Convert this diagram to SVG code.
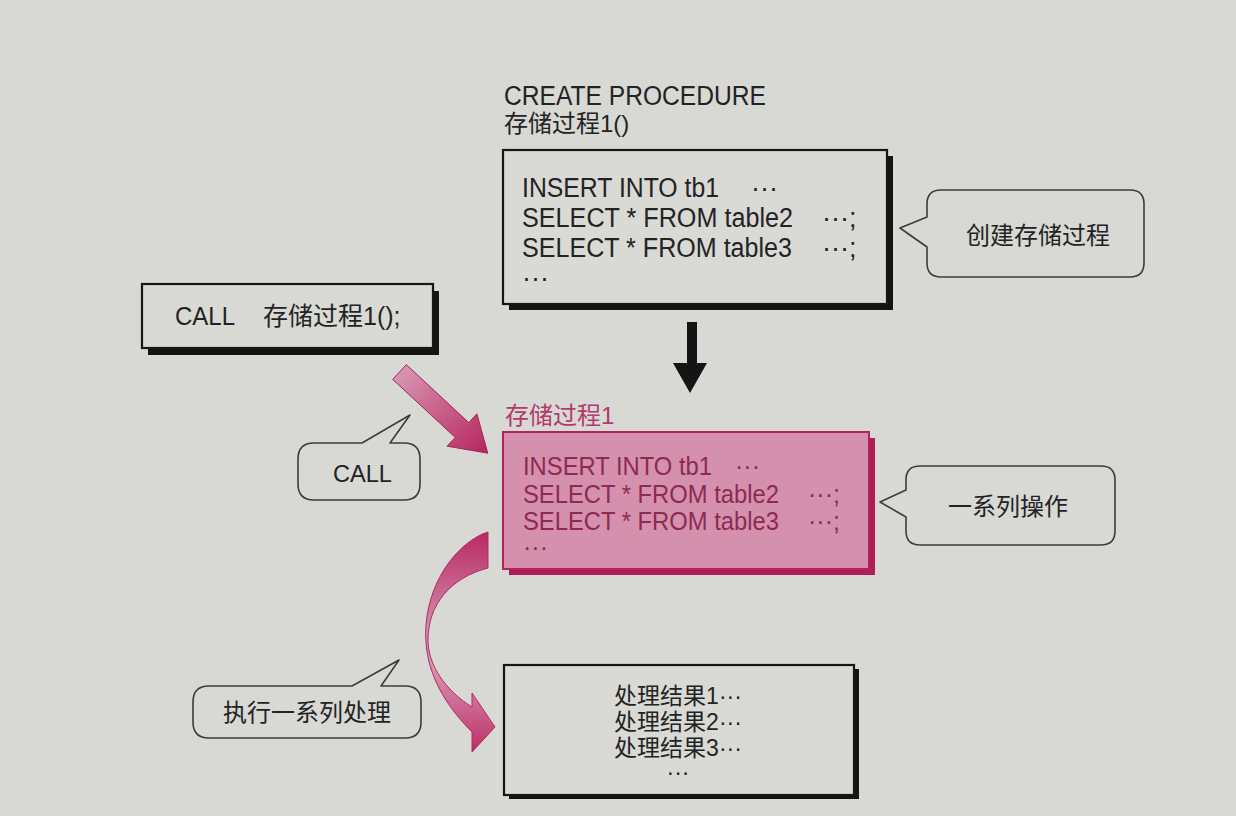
<svg xmlns="http://www.w3.org/2000/svg" width="1236" height="816" viewBox="0 0 1236 816">
<style>
.lat{font-family:"Liberation Sans","Noto Sans CJK SC",sans-serif;fill:#232323}
.cjk{font-family:"Liberation Sans","Noto Sans CJK SC",sans-serif;fill:#232323}
.pk{fill:#8e2a52}
.box{fill:#d9d9d6;stroke:#161616;stroke-width:2.2}
.shadow{fill:#141414}
.bubble{fill:none;stroke:#3c3c3c;stroke-width:1.6;stroke-linejoin:round}
</style>
<defs>
<linearGradient id="gDiag" gradientUnits="userSpaceOnUse" x1="398" y1="370" x2="485" y2="452">
<stop offset="0" stop-color="#d997b3"/>
<stop offset="1" stop-color="#b6285f"/>
</linearGradient>
<linearGradient id="gCurve" gradientUnits="userSpaceOnUse" x1="0" y1="532" x2="0" y2="752">
<stop offset="0" stop-color="#b92a63"/>
<stop offset="0.45" stop-color="#d48fad"/>
<stop offset="0.6" stop-color="#d99ab5"/>
<stop offset="1" stop-color="#bd2f69"/>
</linearGradient>
</defs>
<rect x="0" y="0" width="1236" height="816" fill="#d8d8d5"/>

<g id="title">
<text class="lat" x="504" y="105" font-size="27" textLength="262" lengthAdjust="spacingAndGlyphs">CREATE PROCEDURE</text>
<text class="cjk" x="504" y="132" font-size="24">存储过程1()</text>
</g>

<g id="create-box">
<rect class="shadow" x="509" y="156" width="384" height="154"/>
<rect class="box" x="503" y="150" width="384" height="154"/>
<text class="lat" x="522" y="197" font-size="27" textLength="197" lengthAdjust="spacingAndGlyphs">INSERT INTO tb1</text>
<text class="lat" x="751" y="197" font-size="27">···</text>
<text class="lat" x="522" y="227" font-size="27" textLength="271" lengthAdjust="spacingAndGlyphs">SELECT * FROM table2</text>
<text class="lat" x="822" y="227" font-size="27">···;</text>
<text class="lat" x="522" y="257" font-size="27" textLength="270" lengthAdjust="spacingAndGlyphs">SELECT * FROM table3</text>
<text class="lat" x="822" y="257" font-size="27">···;</text>
<text class="lat" x="522" y="287" font-size="27">···</text>
</g>

<g id="bubble-create">
<path class="bubble" d="M941,190 H1130 Q1144,190 1144,204 V263 Q1144,277 1130,277 H941 Q927,277 927,263 V247 L900,228 L927,217 V204 Q927,190 941,190 Z"/>
<text class="cjk" x="1038" y="244" font-size="24" text-anchor="middle">创建存储过程</text>
</g>

<g id="call-box">
<rect class="shadow" x="148" y="291" width="291" height="64"/>
<rect class="box" x="142" y="284" width="291" height="64"/>
<text class="lat" x="175" y="325" font-size="25" textLength="60" lengthAdjust="spacingAndGlyphs">CALL</text>
<text class="cjk" x="263" y="325" font-size="25">存储过程1();</text>
</g>

<g id="bubble-call">
<path class="bubble" d="M314,443 H362 L410,415 L390,443 H404 Q420,443 420,459 V484 Q420,500 404,500 H314 Q298,500 298,484 V459 Q298,443 314,443 Z"/>
<text class="lat" x="333" y="482" font-size="24" textLength="59" lengthAdjust="spacingAndGlyphs">CALL</text>
</g>

<g id="procedure-box">
<text class="cjk" x="505" y="424" font-size="24" fill="#b23a6c" style="fill:#b23a6c">存储过程1</text>
<rect x="509" y="438" width="366" height="137" fill="#b01c56"/>
<rect x="503" y="432" width="366" height="137" fill="#d490ad" stroke="#b4245c" stroke-width="2"/>
<text class="lat pk" x="523" y="475" font-size="25" textLength="189" lengthAdjust="spacingAndGlyphs">INSERT INTO tb1</text>
<text class="lat pk" x="735" y="475" font-size="25">···</text>
<text class="lat pk" x="523" y="503" font-size="25" textLength="256" lengthAdjust="spacingAndGlyphs">SELECT * FROM table2</text>
<text class="lat pk" x="808" y="503" font-size="25">···;</text>
<text class="lat pk" x="523" y="530" font-size="25" textLength="256" lengthAdjust="spacingAndGlyphs">SELECT * FROM table3</text>
<text class="lat pk" x="808" y="530" font-size="25">···;</text>
<text class="lat pk" x="523" y="556" font-size="25">···</text>
</g>

<g id="bubble-ops">
<path class="bubble" d="M920,466 H1101 Q1115,466 1115,480 V531 Q1115,545 1101,545 H920 Q906,545 906,531 V517 L880,502 L906,490 V480 Q906,466 920,466 Z"/>
<text class="cjk" x="1008" y="515" font-size="24" text-anchor="middle">一系列操作</text>
</g>

<g id="bubble-exec">
<path class="bubble" d="M209,686 H352 L399,660 L381,686 H405 Q421,686 421,702 V722 Q421,738 405,738 H209 Q193,738 193,722 V702 Q193,686 209,686 Z"/>
<text class="cjk" x="307" y="721" font-size="24" text-anchor="middle">执行一系列处理</text>
</g>

<g id="result-box">
<rect class="shadow" x="509" y="669" width="350" height="130"/>
<rect class="box" x="504" y="665" width="350" height="130"/>
<text class="cjk" x="678" y="704" font-size="23" text-anchor="middle">处理结果1···</text>
<text class="cjk" x="678" y="730" font-size="23" text-anchor="middle">处理结果2···</text>
<text class="cjk" x="678" y="756" font-size="23" text-anchor="middle">处理结果3···</text>
<text class="lat" x="678" y="780" font-size="23" text-anchor="middle">···</text>
</g>

<g id="connectors">
<path d="M687,322 H697 V363 H707 L690,393 L673,363 H687 Z" fill="#141414"/>
<polygon points="406.3,364.6 468.8,422.6 476.9,413.8 487.8,453.2 447.1,446.2 455.2,437.4 392.7,379.4" fill="url(#gDiag)" stroke="#a8265a" stroke-width="1"/>
<path d="M488,532 C462,540 430,575 426,625 C423,665 440,700 472,732 L472,752 L495,727 L472,693 L472,707 C445,690 428,665 428,640 C428,605 450,578 488,568 Z" fill="url(#gCurve)" stroke="#b02a62" stroke-width="1"/>
</g>
</svg>
